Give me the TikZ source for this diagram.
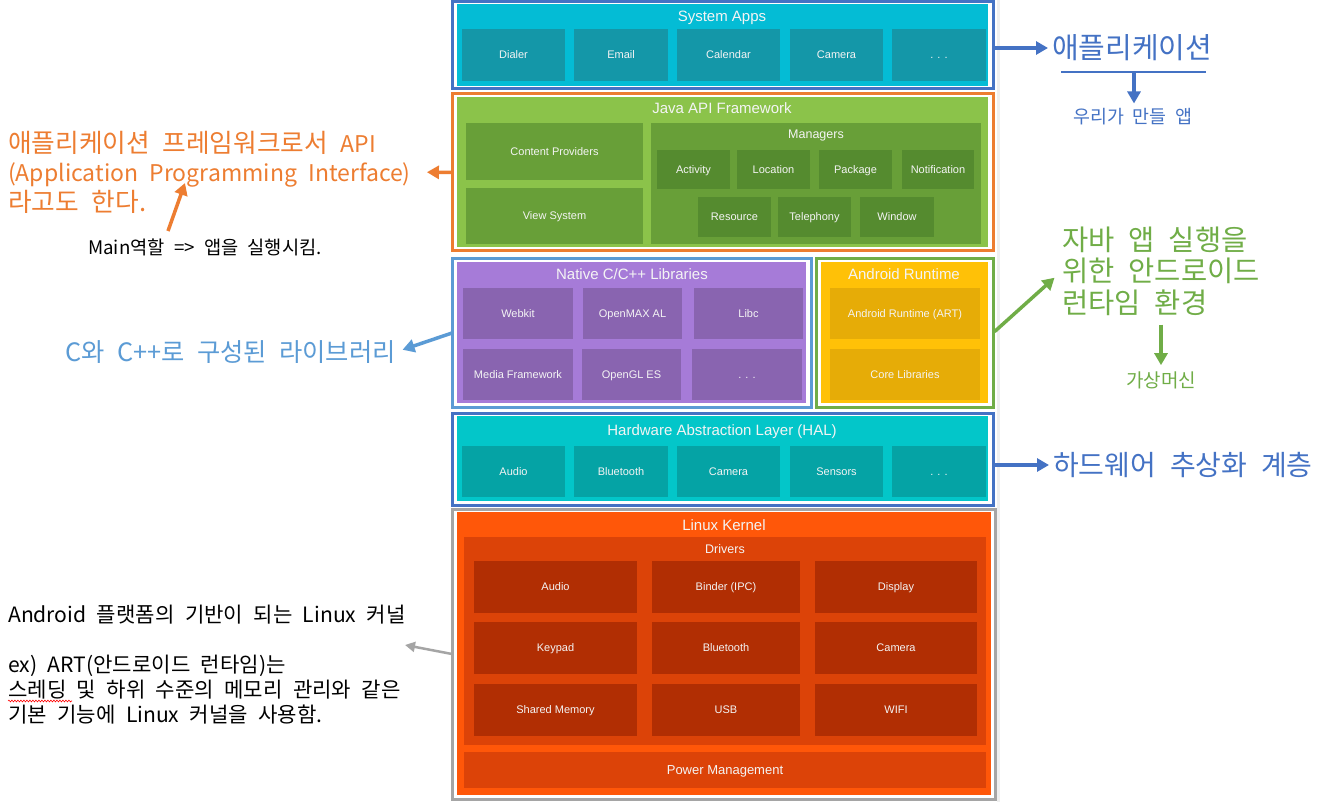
\documentclass[tikz,border=0pt]{standalone}
\usepackage{fontspec}
\setmainfont{Liberation Sans}
\newfontfamily\kr[WordSpace=2.2]{Noto Sans CJK KR}
\usetikzlibrary{arrows.meta,fit,decorations.pathmorphing}
\definecolor{fblue}{HTML}{4472C4}
\definecolor{forange}{HTML}{ED7D31}
\definecolor{fltblue}{HTML}{5B9BD5}
\definecolor{fgreen}{HTML}{70AD47}
\definecolor{fgray}{HTML}{A5A5A5}
\definecolor{csys}{HTML}{04BCD5}
\definecolor{csysb}{HTML}{1497A8}
\definecolor{chal}{HTML}{03C6C9}
\definecolor{chalb}{HTML}{05A3A5}
\definecolor{cjava}{HTML}{8BC34A}
\definecolor{cjavab}{HTML}{689F38}
\definecolor{cjavam}{HTML}{558B2F}
\definecolor{cnat}{HTML}{A67BD8}
\definecolor{cnatb}{HTML}{8964B0}
\definecolor{cart}{HTML}{FFC107}
\definecolor{cartb}{HTML}{E6AC07}
\definecolor{cker}{HTML}{FF5709}
\definecolor{ckerd}{HTML}{DC4308}
\definecolor{ckerb}{HTML}{B12E03}
\definecolor{boxtxt}{HTML}{F4F4F4}
\definecolor{edge}{HTML}{EFEFEF}
% box: name, x1, y1, x2, y2, extra style, text
\newcommand\bx[7]{%
  \pgfmathsetmacro\bxw{#4-#2}\pgfmathsetmacro\bxh{#5-#3}%
  \pgfmathsetmacro\bxx{(#2+#4)/2}\pgfmathsetmacro\bxy{(#3+#5)/2}%
  \node[box,#6,minimum width=\bxw pt,minimum height=\bxh pt] (#1) at (\bxx,\bxy) {#7};}
\newcommand\ltsm{\fontsize{23}{29.5}\selectfont}
\begin{document}
\begin{tikzpicture}[x=1pt,y=-1pt,
  frame/.style={draw, line width=3pt, inner sep=0pt, outer sep=0pt},
  layer/.style={inner sep=0pt, outer sep=0pt},
  box/.style={inner sep=0pt, outer sep=0pt, text=boxtxt, font=\fontsize{11}{13}\selectfont, text height=7.9pt, text depth=0pt},
  ttl/.style={inner sep=0pt, text=boxtxt, font=\fontsize{15}{18}\selectfont, text height=10.7pt, text depth=0pt},
  sub/.style={inner sep=0pt, text=boxtxt, font=\fontsize{12.5}{15}\selectfont, text height=9pt, text depth=0pt},
  arr/.style={line width=3.5pt, -{Triangle[length=12pt,width=13pt]}},
  note/.style={inner sep=0pt, anchor=west, align=left},
]
\useasboundingbox (0,0) rectangle (1331,802);
\fill[white] (0,0) rectangle (1331,802);
\draw[edge, line width=3pt] (998,0) -- (998,802);

% ---------- System Apps ----------
\node[frame, draw=fblue, fit={(452,2)(993,89)}] (sysf) {};
\node[layer, fill=csys, fit={(457,4)(988,86)}] (sys) {};
\node[ttl] (systtl) at (722,16) {System Apps};
\bx{dialer}{462}{29}{565}{81}{fill=csysb}{Dialer}
\bx{email}{574}{29}{668}{81}{fill=csysb}{Email}
\bx{calendar}{677}{29}{780}{81}{fill=csysb}{Calendar}
\bx{camera}{790}{29}{883}{81}{fill=csysb}{Camera}
\bx{sysdots}{892}{29}{986}{81}{fill=csysb}{. . .}

% ---------- Java API Framework ----------
\node[frame, draw=forange, fit={(452,94)(993,251)}] (javaf) {};
\node[layer, fill=cjava, fit={(457,97)(988,247)}] (java) {};
\node[ttl] (javattl) at (722,108) {Java API Framework};
\bx{content}{466}{123}{643}{180}{fill=cjavab}{Content Providers}
\bx{viewsys}{466}{188}{643}{244}{fill=cjavab}{View System}
\node[layer, fill=cjavab, fit={(651,123)(981,244)}] (managers) {};
\node[sub] (mgrttl) at (816,134) {Managers};
\bx{activity}{657}{150}{730}{189}{fill=cjavam}{Activity}
\bx{location}{737}{150}{810}{189}{fill=cjavam}{Location}
\bx{package}{819}{150}{892}{189}{fill=cjavam}{Package}
\bx{notif}{902}{150}{974}{189}{fill=cjavam}{Notification}
\bx{resource}{698}{197}{771}{237}{fill=cjavam}{Resource}
\bx{telephony}{778}{197}{851}{237}{fill=cjavam}{Telephony}
\bx{window}{860}{197}{934}{237}{fill=cjavam}{Window}

% ---------- Native C/C++ Libraries ----------
\node[frame, draw=fltblue, fit={(452,259)(811,407)}] (natf) {};
\node[layer, fill=cnat, fit={(457,262)(806,403)}] (nat) {};
\node[ttl] (natttl) at (632,274) {Native C/C++ Libraries};
\bx{webkit}{463}{288}{573}{339}{fill=cnatb}{Webkit}
\bx{openmax}{583}{288}{682}{339}{fill=cnatb}{OpenMAX AL}
\bx{libc}{694}{288}{803}{339}{fill=cnatb}{Libc}
\bx{media}{463}{349}{573}{400}{fill=cnatb}{Media Framework}
\bx{opengl}{582}{349}{681}{400}{fill=cnatb}{OpenGL ES}
\bx{natdots}{692}{349}{802}{400}{fill=cnatb}{. . .}

% ---------- Android Runtime ----------
\node[frame, draw=fgreen, fit={(816,259)(993,407)}] (artf) {};
\node[layer, fill=cart, fit={(821,262)(988,403)}] (art) {};
\node[ttl] (artttl) at (904,274) {Android Runtime};
\bx{artbox}{830}{288}{980}{339}{fill=cartb}{Android Runtime (ART)}
\bx{corelib}{830}{349}{980}{400}{fill=cartb}{Core Libraries}

% ---------- HAL ----------
\node[frame, draw=fblue, fit={(452,413)(993,505)}] (half) {};
\node[layer, fill=chal, fit={(457,416)(988,501)}] (hal) {};
\node[ttl] (halttl) at (722,430) {Hardware Abstraction Layer (HAL)};
\bx{haudio}{462}{446}{565}{497}{fill=chalb}{Audio}
\bx{hbt}{574}{446}{668}{497}{fill=chalb}{Bluetooth}
\bx{hcam}{677}{446}{780}{497}{fill=chalb}{Camera}
\bx{hsens}{790}{446}{883}{497}{fill=chalb}{Sensors}
\bx{haldots}{892}{446}{986}{497}{fill=chalb}{. . .}

% ---------- Linux Kernel ----------
\node[frame, draw=fgray, fit={(452,509)(995,799)}] (kerf) {};
\node[layer, fill=cker, fit={(457,512)(991,795)}] (ker) {};
\node[ttl] (kerttl) at (724,525) {Linux Kernel};
\node[layer, fill=ckerd, fit={(464,537)(986,745)}] (drivers) {};
\node[sub] (drvttl) at (725,549) {Drivers};
\bx{kaudio}{474}{561}{637}{613}{fill=ckerb}{Audio}
\bx{kbinder}{652}{561}{800}{613}{fill=ckerb}{Binder (IPC)}
\bx{kdisp}{815}{561}{977}{613}{fill=ckerb}{Display}
\bx{kkey}{474}{622}{637}{674}{fill=ckerb}{Keypad}
\bx{kbt}{652}{622}{800}{674}{fill=ckerb}{Bluetooth}
\bx{kcam}{815}{622}{977}{674}{fill=ckerb}{Camera}
\bx{kshm}{474}{684}{637}{736}{fill=ckerb}{Shared Memory}
\bx{kusb}{652}{684}{800}{736}{fill=ckerb}{USB}
\bx{kwifi}{815}{684}{977}{736}{fill=ckerb}{WIFI}
\bx{power}{464}{752}{986}{788}{fill=ckerd, font=\fontsize{13}{15}\selectfont, text height=9.3pt}{Power Management}

% ---------- Annotations ----------
\node[note, text=fblue, font=\kr\fontsize{29}{33}\selectfont] (apptxt) at (1052,48) {애플리케이션};
\draw[arr, fblue] (sysf.east |- apptxt.west) -- ([xshift=-4pt]apptxt.west);
\coordinate (ula) at (1061,72);
\coordinate (ulb) at (1206,72);
\coordinate (ulm) at (1134,72);
\draw[fblue, line width=1.6pt] (ula) -- (ulb);
\node[inner sep=0pt, text=fblue, font=\kr\fontsize{18.4}{22}\selectfont] (ourapp) at (1133,117) {우리가 만들 앱};
\draw[arr, fblue, shorten >=5pt] (ulm) -- (ulm |- ourapp.north);

\node[note, text=fgreen, font=\kr\fontsize{28.5}{31.5}\selectfont] (rttxt) at (1062,271) {자바 앱 실행을\\위한 안드로이드\\런타임 환경};
\draw[arr, fgreen, shorten <=2pt, shorten >=10pt] (artf.east) -- (rttxt.west);
\node[inner sep=0pt, text=fgreen, font=\kr\fontsize{19}{22}\selectfont] (vm) at (1161,380) {가상머신};
\draw[arr, fgreen, shorten <=9pt, shorten >=6pt] (vm.north |- rttxt.south) -- (vm.north);

\node[note, text=fblue, font=\kr\fontsize{28}{32}\selectfont] (haltxt) at (1053,465) {하드웨어 추상화 계층};
\draw[arr, fblue] (half.east |- haltxt.west) -- ([xshift=-4pt]haltxt.west);

\node[note, text=forange, font=\kr\fontsize{25.7}{29.5}\selectfont] (apitxt) at (8,172) {애플리케이션 프레임워크로서 {\ltsm API}\\{\ltsm (Application Programming Interface)}\\라고도 한다.};
\draw[arr, forange, shorten >=16pt] (javaf.west) -- (apitxt.east);
\node[note, text=black, font=\kr\fontsize{18.7}{22}\selectfont] (maintxt) at (88,247) {Main역할 => 앱을 실행시킴.};
\coordinate (mtail) at (168,231);
\coordinate (mtip) at (185,183);
\draw[arr, forange] (mtail) -- (mtip);

\node[note, text=fltblue, font=\kr\fontsize{25.3}{29}\selectfont] (cpptxt) at (65,352) {C와 C++로 구성된 라이브러리};
\draw[arr, fltblue, shorten >=7pt] (natf.west) -- (cpptxt.east);

\node[note, text=black, font=\kr\fontsize{21.1}{25}\selectfont] (kertxt) at (8,665) {Android 플랫폼의 기반이 되는 Linux 커널\\[25pt]ex) ART(안드로이드 런타임)는\\스레딩 및 하위 수준의 메모리 관리와 같은\\기본 기능에 Linux 커널을 사용함.};
\coordinate (gtip) at (405,645);
\draw[line width=2.5pt, fgray, -{Triangle[length=10pt,width=10pt]}] (kerf.west) -- (gtip);
\draw[red, line width=0.6pt, decorate, decoration={snake, amplitude=0.9pt, segment length=3pt}] (8,701) -- (72,701);
\end{tikzpicture}
\end{document}
